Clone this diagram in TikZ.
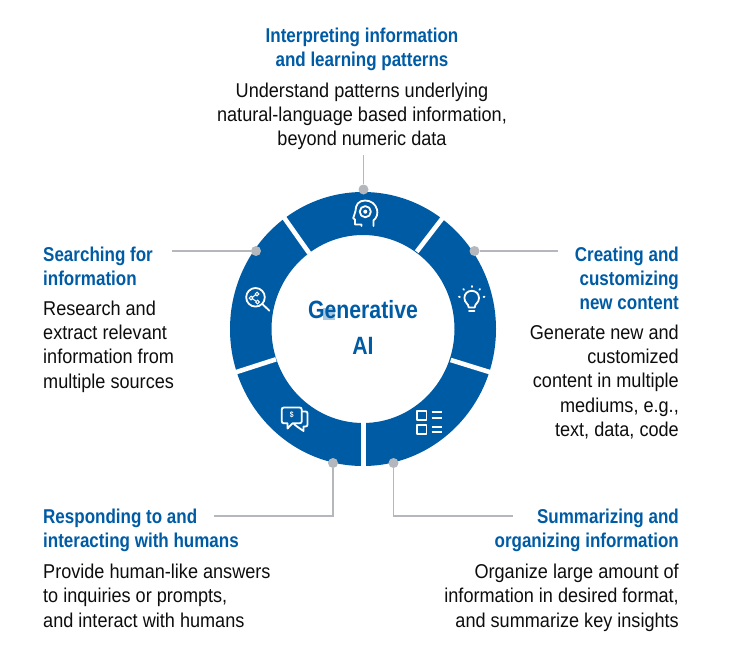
\documentclass[tikz,border=0pt]{standalone}
\usepackage{fontspec}
\setmainfont[FakeStretch=0.905,BoldFont={Liberation Sans Bold},BoldFeatures={FakeStretch=0.85}]{Liberation Sans}
\definecolor{ringblue}{HTML}{005BA5}
\definecolor{linegray}{HTML}{B4B7BB}
\definecolor{markblue}{HTML}{A9C8E2}
\tikzset{
title/.style={inner sep=0pt,text=ringblue,font=\fontsize{20}{24.3}\selectfont\bfseries},
body/.style={inner sep=0pt,text=black!95,font=\fontsize{20}{24.3}\selectfont},
dot/.style={circle,fill=linegray,draw=none,minimum size=10pt,inner sep=0pt},
link/.style={linegray,line width=1.5pt},
icon/.style={white,line width=1.8pt,line cap=round,line join=round},
}
\begin{document}
\begin{tikzpicture}[x=1pt,y=-1pt]
\useasboundingbox (0,0) rectangle (736,659);

\fill[ringblue,even odd rule] (363,329) ellipse [x radius=133,y radius=137]
(363,329) ellipse [x radius=91.5,y radius=94];

\foreach \ax/\ay/\bx/\by in {
416.7/251.7/443/217.5,
309.3/253.3/284/217.5,
450.7/360/491/372.5,
276/359.3/235/372.5,
363.3/421/363.3/468}
{\draw[white,line width=4.6pt] (\ax,\ay) -- (\bx,\by);}

\node[dot] (dottop) at (363.5,189.5) {};
\node[dot] (dotright) at (474.5,251) {};
\node[dot] (dotleft) at (256,251) {};
\node[dot] (dotbl) at (333,463) {};
\node[dot] (dotbr) at (393.5,463) {};

\coordinate (endtop) at (363.5,155);
\coordinate (endright) at (558,251);
\coordinate (endleft) at (172,251);
\coordinate (endbl) at (214,516);
\coordinate (endbr) at (513,516);

\draw[link] (dottop) -- (endtop);
\draw[link] (dotright) -- (endright);
\draw[link] (dotleft) -- (endleft);
\draw[link] (dotbl) |- (endbl);
\draw[link] (dotbr) |- (endbr);

\fill[markblue] (323.3,308.3) rectangle (335,320);
\node[inner sep=0pt,text=ringblue,align=center,font=\fontsize{25}{36}\selectfont\bfseries] (core) at (363,327) {Generative\\AI};

\node[title,align=center,anchor=north] (ttop) at (362,28) {Interpreting information\\and learning patterns};
\node[body,align=center,anchor=north] (btop) at (362,82.7) {Understand patterns underlying\\natural-language based information,\\beyond numeric data};

\node[title,align=left,anchor=north west] (tleft) at (43,246.4) {Searching for\\information};
\node[body,align=left,anchor=north west] (bleft) at (43,300.7) {Research and\\extract relevant\\information from\\multiple sources};

\node[title,align=right,anchor=north east] (tright) at (679,246.4) {Creating and\\customizing\\new content};
\node[body,align=right,anchor=north east] (bright) at (679,324.7) {Generate new and\\customized\\content in multiple\\mediums, e.g.,\\text, data, code};

\node[title,align=left,anchor=north west] (tbl) at (43,508.4) {Responding to and\\interacting with humans};
\node[body,align=left,anchor=north west] (bbl) at (43,563.7) {Provide human-like answers\\to inquiries or prompts,\\and interact with humans};

\node[title,align=right,anchor=north east] (tbr) at (679,508.4) {Summarizing and\\organizing information};
\node[body,align=right,anchor=north east] (bbr) at (679,563.7) {Organize large amount of\\information in desired format,\\and summarize key insights};

% head
\draw[icon] (373.5,226) -- (373.5,220.5)
.. controls (377,217.5) and (378,213.5) .. (377,209.5)
.. controls (375.5,203.5) and (370.5,200.5) .. (365,200.5)
.. controls (358.5,200.5) and (355.5,205) .. (355.5,211)
-- (353.2,218.2) -- (355,219.5) -- (355,224.5) -- (361.5,224.5) -- (361.5,226);
\draw[icon] (365.3,211.7) circle [radius=5.6];
\fill[white] (365.3,211.7) circle [radius=2];

% bulb
\draw[icon] (468.7,307.5)
.. controls (468.7,303.5) and (464.4,303) .. (464.4,298)
.. controls (464.4,293.8) and (467.6,290.8) .. (471.7,290.8)
.. controls (475.8,290.8) and (479,293.8) .. (479,298)
.. controls (479,303) and (474.7,303.5) .. (474.7,307.5) -- cycle;
\draw[icon] (469,310.8) -- (474.5,310.8);
\foreach \ang in {-170,-130,-90,-50,-10}
{\draw[icon] (471.7,299) ++(\ang:12) -- ++(\ang:1);}

% search
\draw[icon] (255.5,297.3) circle [radius=9.3];
\draw[icon] (262.2,303.8) -- (269.3,310.7);
\draw[white,line width=1pt] (251,298) -- (257,294) (251,298) -- (257.5,302);
\foreach \px/\py in {251/298,257/294,257.5/302}
{\draw[white,line width=1pt,fill=ringblue] (\px,\py) circle [radius=1.8];}

% chat
\draw[icon] (284,407.5) -- (299.5,407.5)
.. controls (301,407.5) and (301.8,408.3) .. (301.8,409.8)
-- (301.8,421) .. controls (301.8,422.5) and (301,423.3) .. (299.5,423.3)
-- (292.5,423.3) -- (287.5,428.5) -- (287.5,423.3) -- (284,423.3)
.. controls (282.5,423.3) and (281.7,422.5) .. (281.7,421)
-- (281.7,409.8) .. controls (281.7,408.3) and (282.5,407.5) .. (284,407.5) -- cycle;
\draw[icon] (302,411.5) -- (305.5,411.5) .. controls (306.8,411.5) and (307.5,412.2) .. (307.5,413.5)
-- (307.5,424.5) .. controls (307.5,425.8) and (306.8,426.5) .. (305.5,426.5)
-- (303.5,426.5) -- (303.5,431) -- (297,426.5) -- (294,424);
\node[inner sep=0pt,text=white,font=\fontsize{8}{8}\selectfont\bfseries] (dollar) at (291.8,415.3) {\$};

% list
\foreach \top in {411,425}
{\draw[icon,line cap=butt] (417,\top) rectangle (426.5,\top+9.3);}
\foreach \ly in {412.3,418.3,426.7,432.3}
{\draw[icon,line cap=butt] (431.7,\ly) -- (441.7,\ly);}
\end{tikzpicture}
\end{document}
